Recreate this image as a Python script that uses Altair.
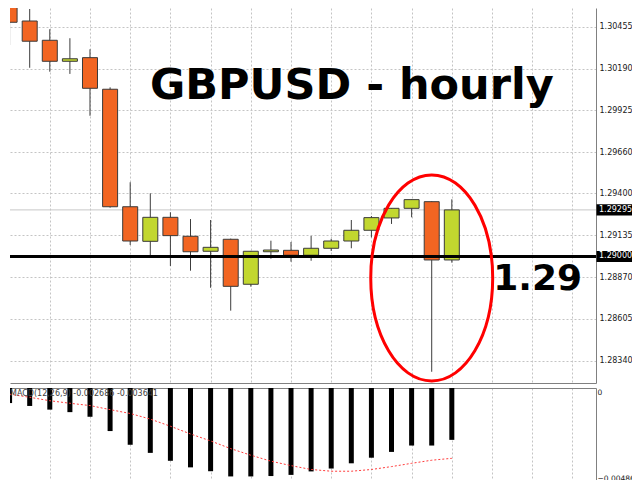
import altair as alt
import pandas as pd

# ---------------- data ----------------
candle_idx = list(range(23))
opens = [1.30592, 1.30491, 1.30369, 1.30236, 1.30259, 1.30059, 1.29315, 1.29096,
         1.29248, 1.29128, 1.29033, 1.29109, 1.28824, 1.29030, 1.29039, 1.29008,
         1.29052, 1.29098, 1.29166, 1.29244, 1.29305, 1.29347, 1.28978]
closes = [1.30483, 1.30363, 1.30236, 1.30252, 1.30065, 1.29315, 1.29098, 1.29248,
          1.29132, 1.29030, 1.29058, 1.28811, 1.29033, 1.29041, 1.29008, 1.29052,
          1.29098, 1.29166, 1.29246, 1.29305, 1.29360, 1.28978, 1.29295]
highs = [1.30655, 1.30567, 1.30439, 1.30382, 1.30312, 1.30071, 1.29470, 1.29400,
         1.29280, 1.29237, 1.29231, 1.29113, 1.29035, 1.29100, 1.29092, 1.29130,
         1.29112, 1.29231, 1.29256, 1.29307, 1.29362, 1.29350, 1.29362]
lows = [1.30339, 1.30195, 1.30170, 1.30156, 1.29891, 1.29309, 1.29073, 1.29003,
        1.28940, 1.28910, 1.28802, 1.28657, 1.28809, 1.28986, 1.28967, 1.28973,
        1.29035, 1.29052, 1.29121, 1.29206, 1.29248, 1.28270, 1.28961]

macd_hist = [-0.00078, -0.00093, -0.00112, -0.00125, -0.00149, -0.00223, -0.00294,
             -0.00336, -0.00377, -0.00411, -0.00431, -0.00458, -0.00458, -0.00456,
             -0.00450, -0.00432, -0.00417, -0.00390, -0.00361, -0.00331, -0.00298,
             -0.00298, -0.002686]
macd_signal = [-0.00032, -0.00048, -0.00066, -0.00079, -0.00091, -0.00112, -0.00132,
               -0.00161, -0.00198, -0.00238, -0.00274, -0.00314, -0.00348, -0.00379,
               -0.00402, -0.00422, -0.00431, -0.00431, -0.00422, -0.00407, -0.00390,
               -0.00374, -0.003641]
macd_params = [12, 26, 9]

price_ticks = [1.30455, 1.30190, 1.29925, 1.29660, 1.29400, 1.29135, 1.28870, 1.28605, 1.28340]
macd_ticks = [-0.004868, 0]
grid_x = list(range(2, 29, 2))
last_price = 1.29295
support_level = 1.29000
support_text = "1.29"
title_text = "GBPUSD - hourly"
circle_at = [21, 1.28864]  # candle index / price of the red ellipse centre

# ---------------- tables ----------------
df = pd.DataFrame({"i": candle_idx, "open": opens, "close": closes,
                   "high": highs, "low": lows})
df["dir"] = ["down" if c < o else "up" for o, c in zip(opens, closes)]
mdf = pd.DataFrame({"i": candle_idx, "hist": macd_hist, "signal": macd_signal})

W = 586
H_PRICE = 375
H_MACD = 94
LABEL_FONT = "DejaVu Sans"

xscale = alt.Scale(domain=[0.269, 28.924], nice=False, zero=False)
yscale = alt.Scale(domain=[1.281989, 1.305734], nice=False, zero=False)
mscale = alt.Scale(domain=[-0.004868, 0], nice=False, zero=False)

GRID = dict(grid=True, gridColor="#c4c4c4", gridDash=[2, 2], gridWidth=1)
LBL = dict(labelFont=LABEL_FONT, labelColor="#1a1a1a",
           ticks=False, title=None, domain=True,
           domainColor="#808080", domainWidth=1)

x_axis_price = alt.Axis(orient="bottom", values=grid_x, labels=False, ticks=False,
                        title=None, domain=True, domainColor="#808080", **GRID)
y_axis_price = alt.Axis(orient="right", values=price_ticks, format=".5f",
                        labelFontSize=8, labelPadding=3, **LBL, **GRID)

base = alt.Chart(df)

wicks = base.mark_rule(color="#3c3c3c", strokeWidth=1, clip=True).encode(
    x=alt.X("i:Q", scale=xscale, axis=x_axis_price),
    y=alt.Y("low:Q", scale=yscale, axis=y_axis_price),
    y2="high:Q",
)
bodies = base.mark_bar(size=15, stroke="#3a3a3a", strokeWidth=1, clip=True).encode(
    x="i:Q",
    y="open:Q",
    y2="close:Q",
    color=alt.Color("dir:N", scale=alt.Scale(domain=["down", "up"],
                                             range=["#f26522", "#c2d72f"]), legend=None),
)

last_line = alt.Chart(pd.DataFrame({"v": [last_price]})).mark_rule(
    color="#c8c8c8", strokeWidth=1).encode(y="v:Q")
support_line = alt.Chart(pd.DataFrame({"v": [support_level]})).mark_rule(
    color="black", strokeWidth=3).encode(y="v:Q")

lvl = pd.DataFrame({"v": [last_price, support_level],
                    "t": [f"{last_price:.5f}", f"{support_level:.5f}"]})
lvl_box = alt.Chart(lvl).mark_point(
    shape="M -1 -0.3 L 1 -0.3 L 1 0.3 L -1 0.3 Z", size=37 * 37,
    filled=True, color="black", opacity=1).encode(
    x=alt.value(W + 19), y="v:Q")
lvl_text = alt.Chart(lvl).mark_text(
    align="left", baseline="middle", font=LABEL_FONT, fontSize=8,
    color="white").encode(x=alt.value(W + 3), y="v:Q", text="t:N")

title = alt.Chart(pd.DataFrame({"t": [title_text]})).mark_text(
    font="DejaVu Sans", fontSize=43, fontWeight="bold", align="left",
    baseline="alphabetic", color="black").encode(
    x=alt.value(140), y=alt.value(91), text="t:N")

support_lbl = alt.Chart(pd.DataFrame({"v": [support_level], "t": [support_text]})).mark_text(
    font="DejaVu Sans", fontSize=36, fontWeight="bold", align="right",
    baseline="alphabetic", color="black", dy=34).encode(
    x=alt.value(572), y="v:Q", text="t:N")

ellipse = alt.Chart(pd.DataFrame({"i": [circle_at[0]], "v": [circle_at[1]]})).mark_point(
    shape="M -0.592 0 A 0.592 1 0 1 0 0.592 0 A 0.592 1 0 1 0 -0.592 0 Z",
    size=206 * 206, filled=False, color="#ff0000", strokeWidth=3, opacity=1).encode(
    x="i:Q", y="v:Q")

price = alt.layer(last_line, wicks, bodies, support_line, ellipse, support_lbl,
                  title, lvl_box, lvl_text).properties(width=W, height=H_PRICE)

# ---------------- MACD panel ----------------
hist = alt.Chart(mdf).mark_bar(size=5, color="black", clip=True).encode(
    x=alt.X("i:Q", scale=xscale,
            axis=alt.Axis(orient="top", values=grid_x, labels=False, ticks=False,
                          title=None, domain=True, domainColor="#808080", **GRID)),
    y=alt.Y("hist:Q", scale=mscale,
            axis=alt.Axis(orient="right", values=macd_ticks, format=".6~f",
                          labelFlush=True, grid=False, labelFontSize=7.5,
                          labelPadding=1, **LBL)),
    y2=alt.datum(0),
)
signal = alt.Chart(mdf).mark_line(color="#ff3b3b", strokeWidth=1, strokeDash=[2, 2],
                                  clip=True).encode(
    x=alt.X("i:Q", axis=alt.Axis(orient="bottom", labels=False, ticks=False, grid=False,
                                 title=None, domain=True, domainColor="#808080")),
    y="signal:Q",
)
macd_label = alt.Chart(pd.DataFrame({
    "t": ["MACD({},{},{}) {} {}".format(*macd_params, f"{macd_hist[-1]:.6f}",
                                        f"{macd_signal[-1]:.6f}")]})).mark_text(
    align="left", baseline="middle", font=LABEL_FONT, fontSize=8,
    color="#404040").encode(x=alt.value(0), y=alt.value(6), text="t:N")

macd = alt.layer(hist, signal, macd_label).resolve_axis(x="independent").properties(
    width=W, height=H_MACD)

chart = alt.vconcat(price, macd, spacing=1).properties(
    padding={"left": 0, "top": 0, "right": -8, "bottom": 0}).configure_view(stroke=None)

chart.save("out.html", embed_options={"renderer": "svg", "actions": False})
